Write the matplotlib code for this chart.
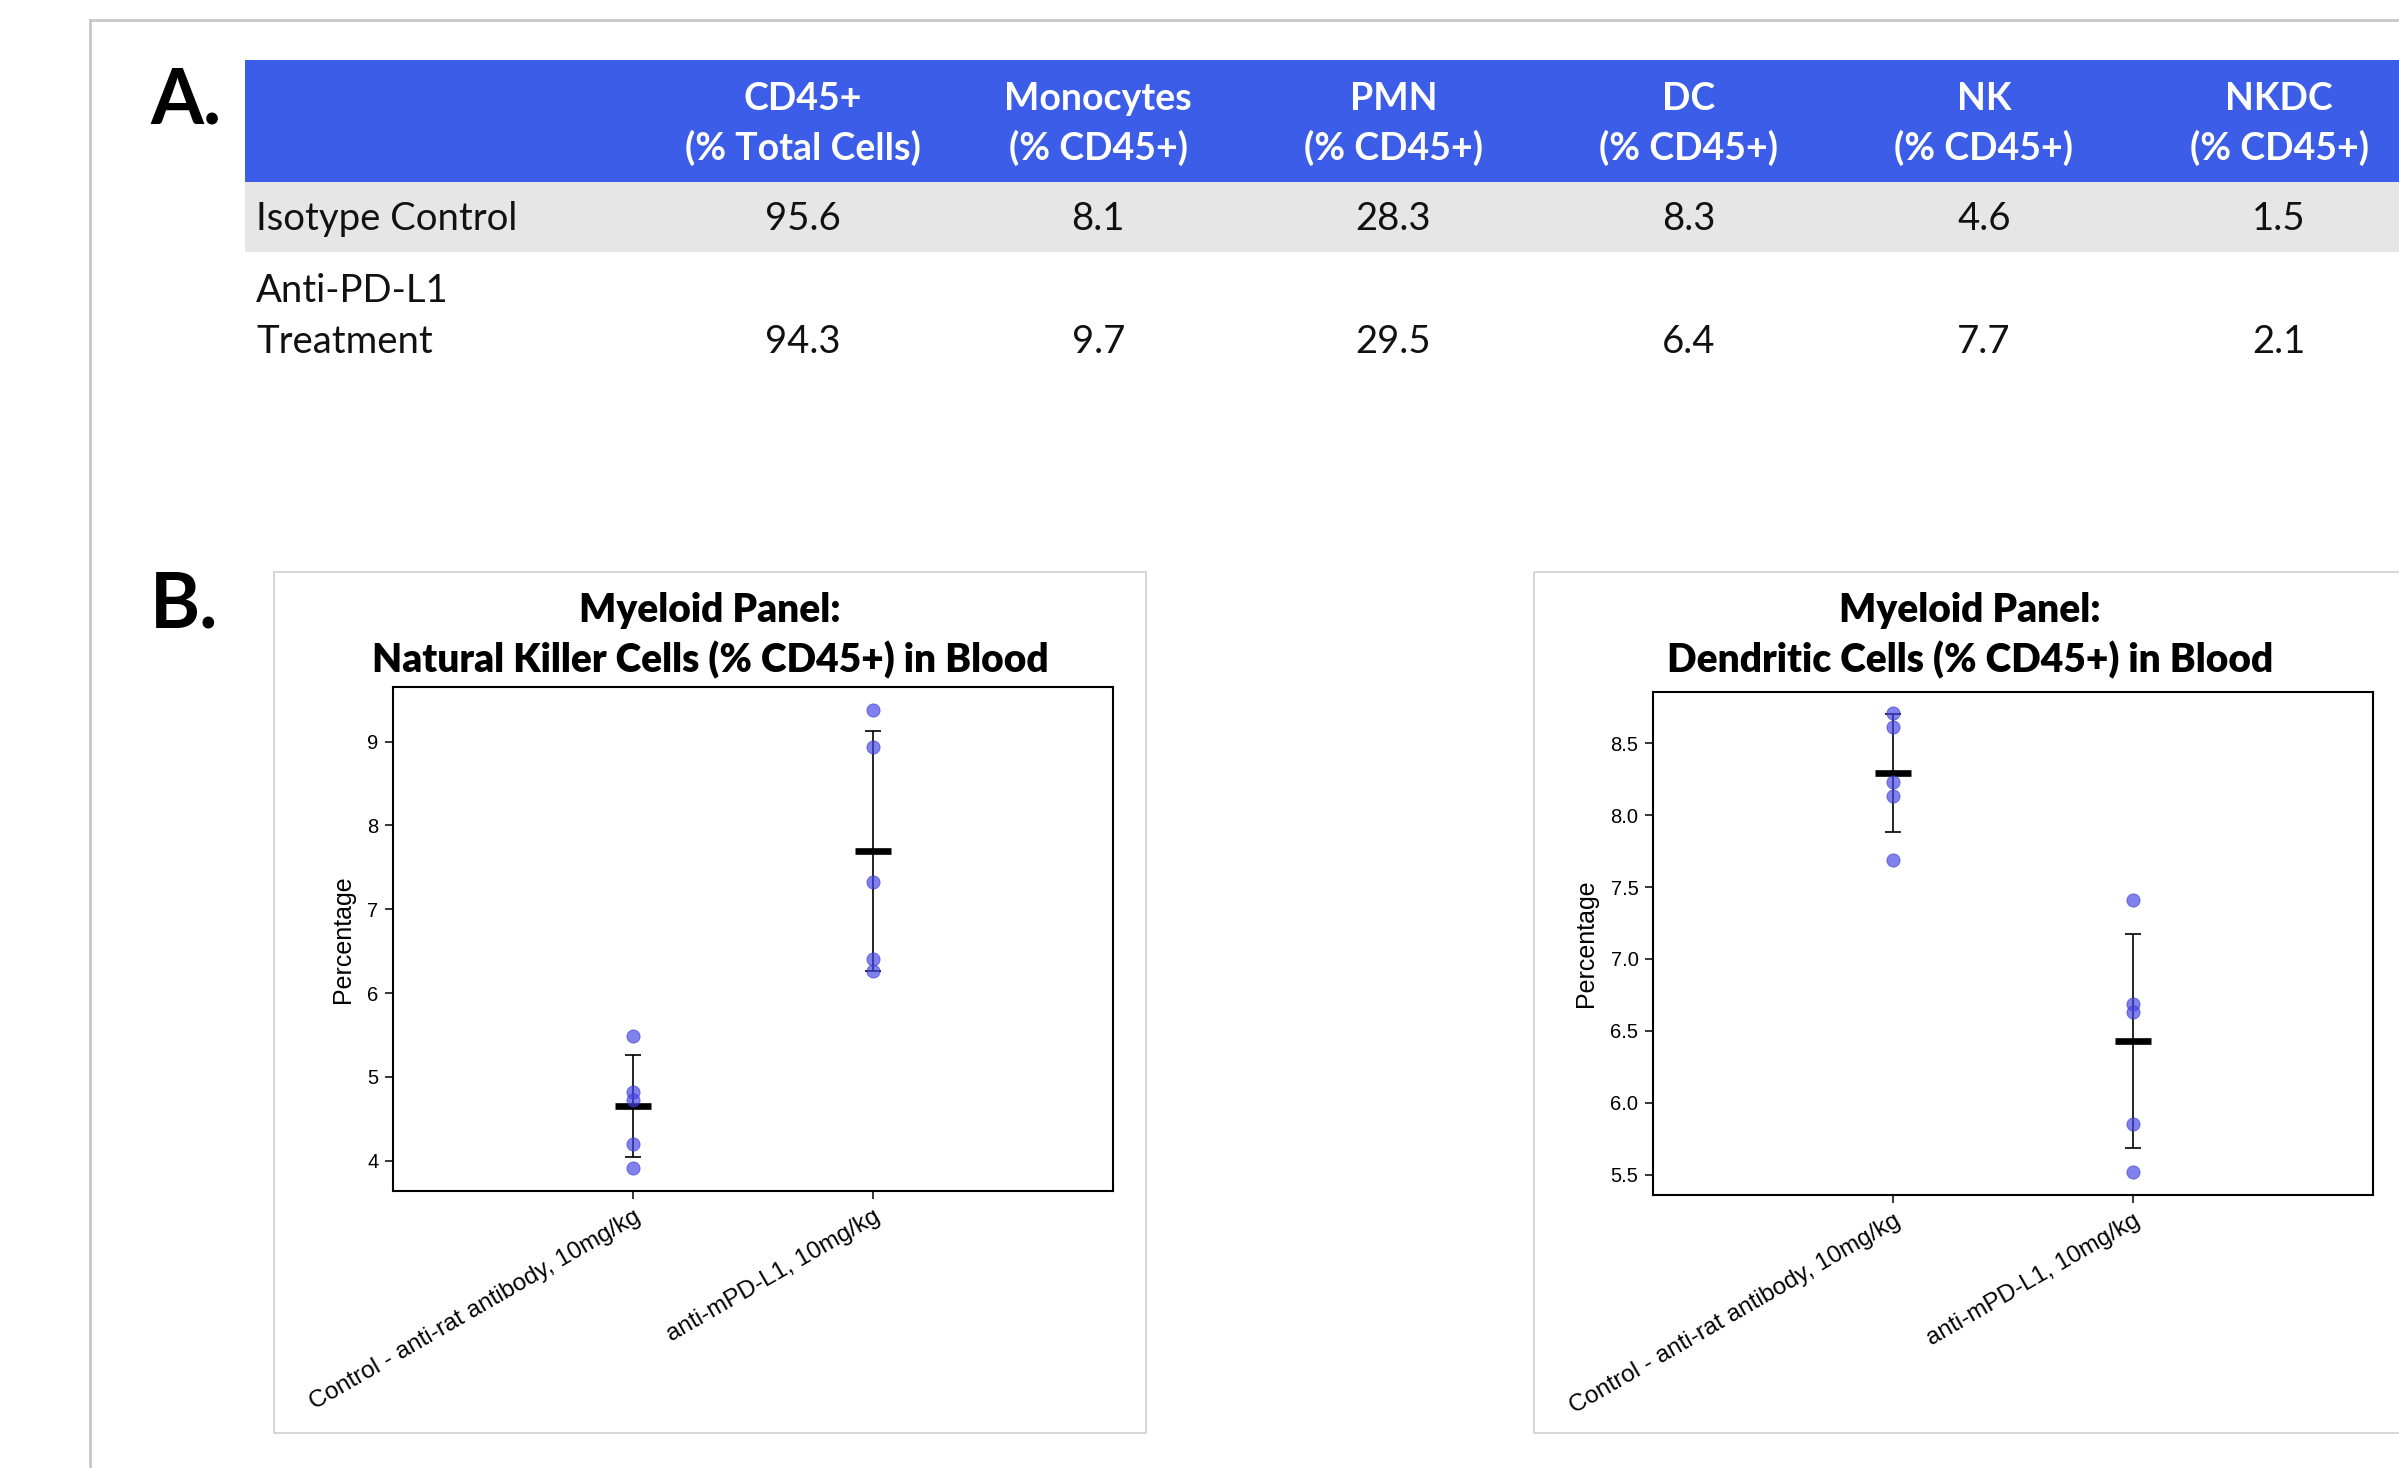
import matplotlib.pyplot as plt
from matplotlib.patches import Rectangle
from matplotlib.ticker import FormatStrFormatter

# panel A table
col_heads = ['CD45+', 'Monocytes', 'PMN', 'DC', 'NK', 'NKDC']
col_units = ['(% Total Cells)', '(% CD45+)', '(% CD45+)', '(% CD45+)', '(% CD45+)', '(% CD45+)']
isotype_vals = ['95.6', '8.1', '28.3', '8.3', '4.6', '1.5']
anti_vals = ['94.3', '9.7', '29.5', '6.4', '7.7', '2.1']

# panel B scatter data
groups = ['Control - anti-rat antibody, 10mg/kg', 'anti-mPD-L1, 10mg/kg']
nk_control = [5.49, 4.82, 4.72, 4.20, 3.91]
nk_anti = [9.38, 8.94, 7.33, 6.41, 6.26]
nk_mean = [4.65, 7.69]
nk_sd = [0.61, 1.43]
dc_control = [8.71, 8.61, 8.23, 8.13, 7.69]
dc_anti = [7.41, 6.69, 6.63, 5.85, 5.52]
dc_mean = [8.29, 6.43]
dc_sd = [0.41, 0.745]

W, H = 2399, 1468
fig = plt.figure(figsize=(W / 100, H / 100), dpi=100)

# background layer in pixel coordinates
bg = fig.add_axes([0, 0, 1, 1])
bg.set_xlim(0, W)
bg.set_ylim(H, 0)
bg.axis('off')

calibri = 'Lato'
bg.plot([90, W], [20, 20], color='#c8c8c8', lw=2)
bg.plot([90, 90], [20, H], color='#c8c8c8', lw=2)

bg.text(150, 123, 'A.', fontsize=55, fontweight='bold', family=calibri, va='baseline')
bg.text(150, 627, 'B.', fontsize=55, fontweight='bold', family=calibri, va='baseline')

bg.add_patch(Rectangle((245, 60), W - 245, 122, color='#3c5de8', lw=0))
bg.add_patch(Rectangle((245, 182), W - 245, 70, color='#e6e6e6', lw=0))

for i in range(len(col_heads)):
    cx = 803 + i * 295.2
    bg.text(cx, 110, col_heads[i], color='white', fontsize=27, fontweight='bold',
            family=calibri, ha='center', va='baseline')
    bg.text(cx, 160, col_units[i], color='white', fontsize=27, fontweight='bold',
            family=calibri, ha='center', va='baseline')
    bg.text(cx, 230, isotype_vals[i], color='#111111', fontsize=27.5,
            family=calibri, ha='center', va='baseline')
    bg.text(cx, 353, anti_vals[i], color='#111111', fontsize=27.5,
            family=calibri, ha='center', va='baseline')

bg.text(256, 230, 'Isotype Control', color='#111111', fontsize=27.5, family=calibri, va='baseline')
bg.text(256, 302, 'Anti-PD-L1', color='#111111', fontsize=27.5, family=calibri, va='baseline')
bg.text(256, 353, 'Treatment', color='#111111', fontsize=27.5, family=calibri, va='baseline')

# panel frames and titles
bg.add_patch(Rectangle((274, 572), 872, 861, fill=False, ec='#d0d0d0', lw=1.2))
bg.add_patch(Rectangle((1534, 572), 872, 861, fill=False, ec='#d0d0d0', lw=1.2))
bg.text(710, 622, 'Myeloid Panel:', fontsize=28, fontweight='heavy', family=calibri,
        ha='center', va='baseline')
bg.text(710, 672, 'Natural Killer Cells (% CD45+) in Blood', fontsize=28,
        fontweight='heavy', family=calibri, ha='center', va='baseline')
bg.text(1970, 622, 'Myeloid Panel:', fontsize=28, fontweight='heavy', family=calibri,
        ha='center', va='baseline')
bg.text(1970, 672, 'Dendritic Cells (% CD45+) in Blood', fontsize=28,
        fontweight='heavy', family=calibri, ha='center', va='baseline')


def scatter_panel(ax, ctrl, anti, means, sds, ylim, yticks, fmt):
    for i, pts in enumerate([ctrl, anti]):
        ax.errorbar(i, means[i], yerr=sds[i], color='black', lw=1.2, capsize=5.5,
                    capthick=1.2, zorder=2)
        ax.plot(i, means[i], marker='_', ms=26, mew=4.8, color='black', zorder=3)
        ax.scatter([i] * len(pts), pts, s=90, color='#4545e6', alpha=0.68,
                   edgecolors='#3434c8', linewidths=0.6, zorder=4)
    ax.set_xlim(-1, 2)
    ax.set_ylim(*ylim)
    ax.set_yticks(yticks)
    ax.yaxis.set_major_formatter(FormatStrFormatter(fmt))
    ax.set_xticks([0, 1])
    ax.set_xticklabels(groups, rotation=30, ha='right', rotation_mode='anchor',
                       fontsize=17.5, family='Liberation Sans')
    for lab in ax.get_yticklabels():
        lab.set_family('Liberation Sans')
        lab.set_fontsize(14.5)
    ax.tick_params(direction='out', length=5.5, width=1.1, pad=5)
    ax.set_ylabel('Percentage', fontsize=18, family='Liberation Sans', labelpad=9)
    for sp in ax.spines.values():
        sp.set_linewidth(1.5)
        sp.set_color('black')


ax1 = fig.add_axes([393 / W, 1 - 1191 / H, 720 / W, 504 / H])
scatter_panel(ax1, nk_control, nk_anti, nk_mean, nk_sd, (3.64, 9.65),
              [4, 5, 6, 7, 8, 9], '%d')

ax2 = fig.add_axes([1653 / W, 1 - 1195 / H, 720 / W, 503 / H])
scatter_panel(ax2, dc_control, dc_anti, dc_mean, dc_sd, (5.36, 8.855),
              [5.5, 6.0, 6.5, 7.0, 7.5, 8.0, 8.5], '%.1f')

plt.savefig('out.png', dpi=100)
